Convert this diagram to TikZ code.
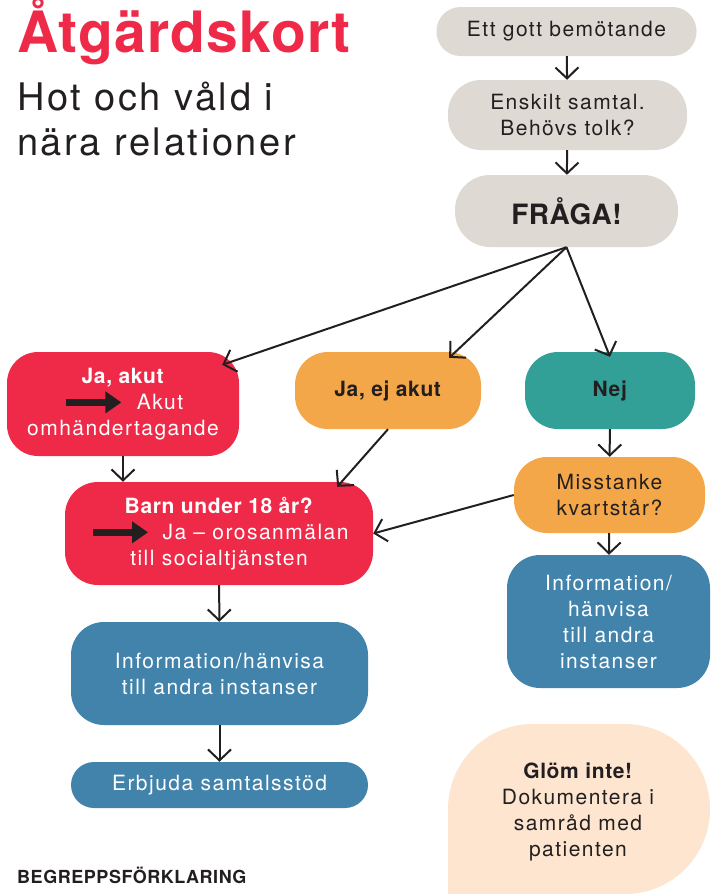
\documentclass[tikz,border=0pt]{standalone}
\usepackage{fontspec}
\setmainfont{TeX Gyre Heros}[LetterSpace=7, BoldFeatures={LetterSpace=3}]
\newfontfamily\headfont{TeX Gyre Heros}[LetterSpace=2]
\usetikzlibrary{arrows.meta}
\definecolor{ink}{RGB}{35,31,32}
\definecolor{kortred}{RGB}{238,42,72}
\definecolor{sand}{RGB}{222,218,211}
\definecolor{ochre}{RGB}{244,167,72}
\definecolor{nejgreen}{RGB}{50,160,151}
\definecolor{steel}{RGB}{66,131,172}
\definecolor{peach}{RGB}{253,229,208}
\newcommand{\fatarrow}{\tikz[baseline=-7pt]\draw[draw=ink, line width=7pt, -{Triangle[length=16pt, width=21pt]}] (0pt,0pt) -- (55pt,0pt);}
\tikzset{
    every node/.style={inner sep=0pt, align=center, text=ink, font=\fontsize{21}{26}\selectfont},
    box/.style={rectangle, rounded corners=33pt},
    pill/.style={rectangle, rounded corners=#1},
    flow/.style={draw=ink, line width=2pt, -{Straight Barb[length=11pt, width=23pt]}}
}

\begin{document}
\begin{tikzpicture}[x=1pt, y=-1pt]
        \useasboundingbox (0,0) rectangle (711,894);
        \fill[peach] (448,894) -- (448,809) arc[start angle=180, end angle=270, radius=85] -- (625,724) arc[start angle=270, end angle=450, radius=85] -- cycle;
        \node (title) [anchor=base west, text=kortred, font=\headfont\bfseries\fontsize{57}{60}\selectfont] at (17,52) {Åtgärdskort};
        \node (sub1) [anchor=base west, font=\fontsize{38}{45}\selectfont] at (17,110) {Hot och våld i};
        \node (sub2) [anchor=base west, font=\fontsize{38}{45}\selectfont] at (17,155) {nära relationer};
        \node (ett) [pill=24pt, fill=sand, minimum width=260pt, minimum height=49pt] at (566.5,31.5) {Ett gott bemötande};
        \node (enskilt) [box, fill=sand, minimum width=239pt, minimum height=70pt] at (567.5,115) {Enskilt samtal.\\Behövs tolk?};
        \node (fraga) [pill=35pt, fill=sand, minimum width=223pt, minimum height=72pt, font=\headfont\bfseries\fontsize{28}{30}\selectfont] at (566.5,211) {FRÅGA!};
        \node (akut) [pill=31pt, fill=kortred, text=white, minimum width=232pt, minimum height=104pt] at (123,404) {\textbf{Ja, akut}\\\fatarrow\hspace{12pt}Akut\\omhändertagande};
        \node (ejakut) [box, fill=ochre, minimum width=186pt, minimum height=77pt] at (388,390.5) {\textbf{Ja, ej akut}};
        \node (nej) [box, fill=nejgreen, minimum width=170pt, minimum height=77pt] at (610,390.5) {\textbf{Nej}};
        \node (barn) [box, fill=kortred, text=white, minimum width=308pt, minimum height=103pt] at (219,533.5) {\textbf{Barn under 18 år?}\\\fatarrow\hspace{11pt}Ja – orosanmälan\\till socialtjänsten};
        \node (miss) [box, fill=ochre, minimum width=191pt, minimum height=76pt] at (609.5,495) {Misstanke\\kvartstår?};
        \node (info) [box, fill=steel, text=white, minimum width=297pt, minimum height=103pt] at (219.5,673.5) {Information/hänvisa\\till andra instanser};
        \node (erbjuda) [pill=23pt, fill=steel, text=white, minimum width=297pt, minimum height=46pt] at (219.5,785) {Erbjuda samtalsstöd};
        \node (rinfo) [box, fill=steel, text=white, minimum width=203pt, minimum height=133pt] at (608.5,621.5) {Information/\\hänvisa\\till andra\\instanser};
        \node (glom) at (578,812) {\textbf{Glöm inte!}\\Dokumentera i\\samråd med\\patienten};
        \node (begrepp) [anchor=base west, font=\bfseries\fontsize{18}{20}\selectfont] at (17,883) {BEGREPPSFÖRKLARING};
        \draw (ett) edge [flow] (enskilt);
        \draw (enskilt) edge [flow] (fraga);
        \draw (fraga.south) edge [flow] ([shift={(-17,13)}]akut.north east);
        \draw (fraga.south) edge [flow] ([shift={(-32,6)}]ejakut.north east);
        \draw (fraga.south) edge [flow] ([shift={(0,5)}]nej.north);
        \draw (akut.south) edge [flow] (akut.south |- barn.north);
        \draw (ejakut.south) edge [flow] ([shift={(-36,5)}]barn.north east);
        \draw (nej) edge [flow] (miss);
        \draw (miss.west) edge [flow] (barn.east);
        \draw (barn) edge [flow] (info);
        \draw (info) edge [flow] (erbjuda);
        \draw (miss) edge [flow] (rinfo);
\end{tikzpicture}
\end{document}
